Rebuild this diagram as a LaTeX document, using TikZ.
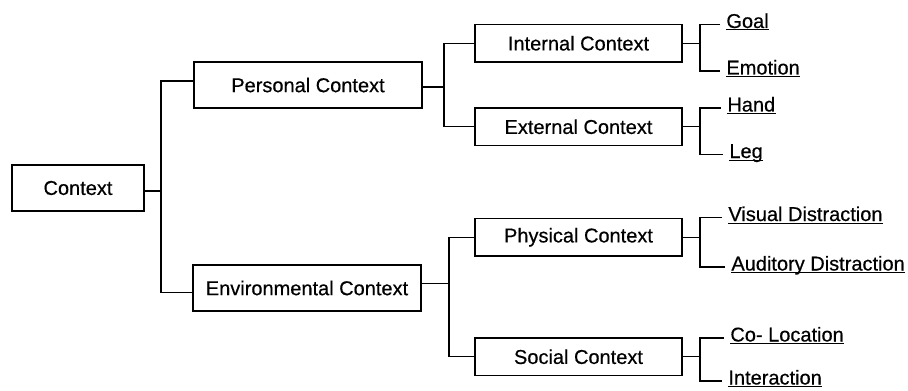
\documentclass[tikz,border=0pt]{standalone}
\usepackage{fontspec}
\setmainfont[FakeBold=0.5]{Liberation Sans}
\usetikzlibrary{positioning}

\begin{document}
\begin{tikzpicture}[
      x=0.5pt, y=-0.5pt,
      box/.style={rectangle, draw, line width=0.7pt, outer sep=0pt, minimum height=23pt,
                  minimum width=114pt, align=center, font=\fontsize{10}{12}\selectfont},
      subbox/.style={box, minimum height=18.75pt, minimum width=103.5pt},
      leaf/.style={anchor=base west, inner sep=0pt, font=\fontsize{10}{12}\selectfont,
                   append after command={([yshift=-1pt]\tikzlastnode.base west)
                     edge[line width=0.5pt] ([yshift=-1pt]\tikzlastnode.base east)}},
      link/.style={line width=0.7pt}
    ]
    \useasboundingbox (0,0) rectangle (908,390);

    % --- context tree ---
    \node[box, minimum width=66pt] (ctx) at (78,188) {Context};
    \node[box, above right=28.5pt and 25pt of ctx] (per) {Personal Context};
    \node[box, below right=27pt and 24.5pt of ctx] (env) {Environmental Context};
    \node[subbox, above right=0pt and 26.5pt of per] (int) {Internal Context};
    \node[subbox, below right=0pt and 26.5pt of per] (ext) {External Context};
    \node[subbox, above right=4.5pt and 27pt of env] (phy) {Physical Context};
    \node[subbox, below right=13.5pt and 27pt of env] (soc) {Social Context};

    % --- leaves ---
    \node[leaf] (goal) at ([shift={(44,3.5)}]int.north east) {Goal};
    \node[leaf] (emotion) at ([shift={(44,12.5)}]int.south east) {Emotion};
    \node[leaf] (hand) at ([shift={(45,3.5)}]ext.north east) {Hand};
    \node[leaf] (leg) at ([shift={(47,12.5)}]ext.south east) {Leg};
    \node[leaf] (visual) at ([shift={(46,2.5)}]phy.north east) {Visual Distraction};
    \node[leaf] (audio) at ([shift={(49,14.5)}]phy.south east) {Auditory Distraction};
    \node[leaf] (coloc) at ([shift={(48,3.5)}]soc.north east) {Co- Location};
    \node[leaf] (inter) at ([shift={(46,9)}]soc.south east) {Interaction};

    % --- brackets ---
    \draw[link] ([shift={(0,3)}]ctx.east) -- ++(17,0) coordinate (j0);
    \draw[link] ([shift={(0,-4)}]per.west) -| (j0) |- ([shift={(0,4.5)}]env.west);
    \draw[link] ([shift={(0,2)}]per.east) -- ++(22,0) coordinate (j1);
    \draw[link] (int.west) -| (j1) |- (ext.west);
    \draw[link] ([shift={(0,-4.5)}]env.east) -- ++(28,0) coordinate (j2);
    \draw[link] (phy.west) -| (j2) |- (soc.west);

    \draw[link] (int.east) -- ++(18,0) coordinate (j3);
    \draw[link] ([shift={(-6,-3.5)}]goal.base west) -| (j3) |- ([shift={(-6,-3.5)}]emotion.base west);
    \draw[link] (ext.east) -- ++(18,0) coordinate (j4);
    \draw[link] ([shift={(-6,-3.5)}]hand.base west) -| (j4) |- ([shift={(-6,-3.5)}]leg.base west);
    \draw[link] (phy.east) -- ++(18,0) coordinate (j5);
    \draw[link] ([shift={(-6,-3.5)}]visual.base west) -| (j5) |- ([shift={(-6,-3.5)}]audio.base west);
    \draw[link] (soc.east) -- ++(18,0) coordinate (j6);
    \draw[link] ([shift={(-6,-3.5)}]coloc.base west) -| (j6) |- ([shift={(-6,-3.5)}]inter.base west);
  \end{tikzpicture}
\end{document}
